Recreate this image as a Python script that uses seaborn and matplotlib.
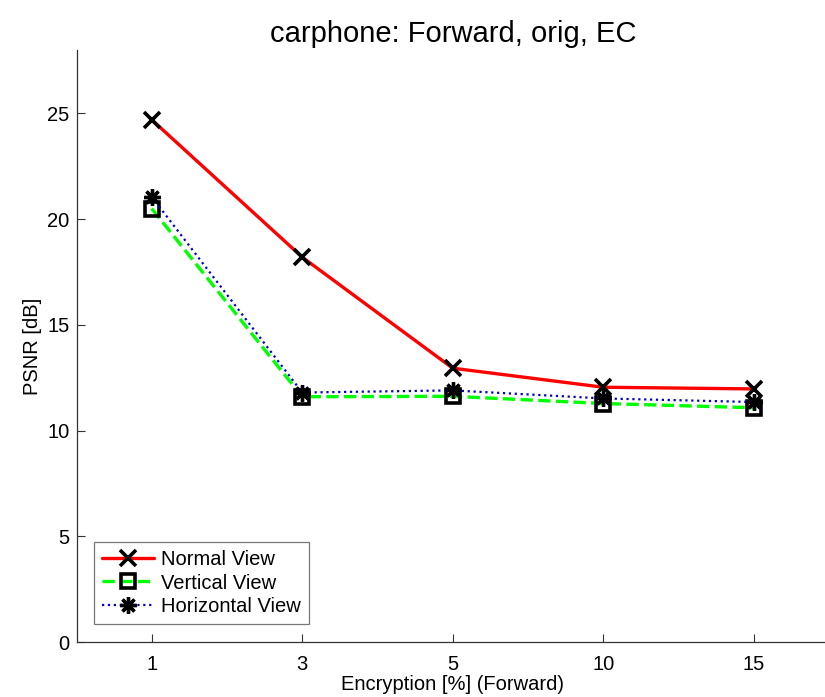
import matplotlib
matplotlib.use("Agg")
import matplotlib.pyplot as plt
import seaborn as sns
import pandas as pd
import numpy as np

encryption = ["1", "3", "5", "10", "15"]
normal_view = [24.7, 18.2, 12.95, 12.05, 11.97]
vertical_view = [20.5, 11.6, 11.62, 11.28, 11.08]
horizontal_view = [21.05, 11.8, 11.9, 11.52, 11.35]

sns.set_theme(style="ticks")
plt.rcParams['font.family'] = ['Liberation Sans', 'DejaVu Sans']
plt.rcParams['text.color'] = 'black'
plt.rcParams['axes.labelcolor'] = 'black'

fig = plt.figure(figsize=(8.25, 6.97), dpi=100)
ax = fig.add_axes([76.5/825, 1 - 642/697, (829-76.5)/825, (642-50)/697])

pos = np.arange(1, len(encryption) + 1)
series = [
    ("Normal View", normal_view, "#ff0000", "-", "x", dict(markersize=11, markeredgewidth=2.6, markerfacecolor="none")),
    ("Vertical View", vertical_view, "#00ff00", "--", "s", dict(markersize=10, markeredgewidth=2.6, markerfacecolor="none")),
    ("Horizontal View", horizontal_view, "#0000cc", ":", (8, 2, 0), dict(markersize=12, markeredgewidth=2.4)),
]
for name, vals, col, ls, mk, kw in series:
    df = pd.DataFrame({"x": pos, "y": vals})
    sns.lineplot(data=df, x="x", y="y", ax=ax, color=col, linestyle=ls,
                 linewidth=2.4 if ls != ":" else 1.6, marker=mk,
                 markeredgecolor="black", label=name, **kw)

ax.set_xlim(0.5, 5.5)
ax.set_ylim(0, 28)
ax.set_xticks(pos)
ax.set_xticklabels(encryption)
ax.set_yticks([0, 5, 10, 15, 20, 25])
ax.tick_params(labelsize=14.5, direction="in", length=6, width=0.8, colors="#333333", labelcolor="black")
ax.tick_params(axis="x", pad=9)
ax.tick_params(axis="y", pad=5)
for s in ["top", "right"]:
    ax.spines[s].set_visible(False)
for s in ["left", "bottom"]:
    ax.spines[s].set_color("#333333")
    ax.spines[s].set_linewidth(0.9)

ax.set_xlabel("Encryption [%] (Forward)", fontsize=14.5, labelpad=1, color="black")
ax.set_ylabel("PSNR [dB]", fontsize=14.5, labelpad=4, color="black")
ax.set_title("carphone: Forward, orig, EC", fontsize=21, pad=6, color="black")

leg = ax.legend(loc="lower left", bbox_to_anchor=(17.5/752.5, 18/592), fontsize=14.5,
                frameon=True, fancybox=False, handlelength=2.6, handletextpad=0.35,
                borderpad=0.4, labelspacing=0.22, borderaxespad=0)
leg.get_frame().set_edgecolor("#555555")
leg.get_frame().set_linewidth(0.9)
for t in leg.get_texts():
    t.set_color("black")

fig.savefig("out.png", dpi=100)
